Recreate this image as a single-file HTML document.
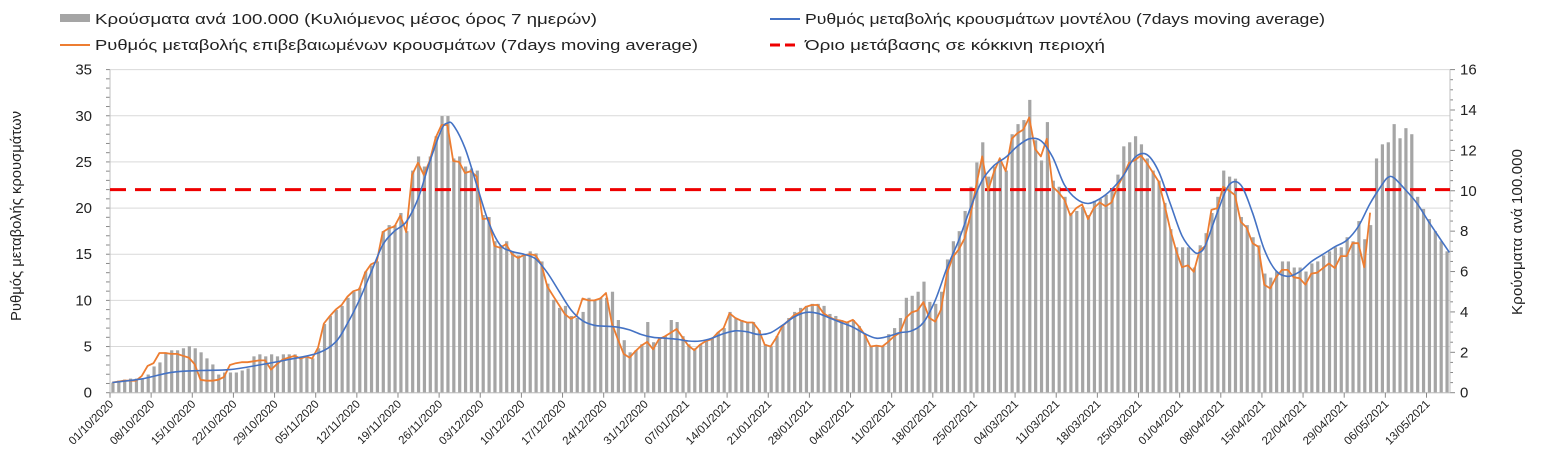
<!DOCTYPE html>
<html><head><meta charset="utf-8"><style>
html,body{margin:0;padding:0;background:#fff;}
svg{display:block;font-family:"Liberation Sans",sans-serif;}
</style></head><body>
<svg id="chart" width="1541" height="469" viewBox="0 0 1541 469" xmlns="http://www.w3.org/2000/svg">
<g id="legend">
 <g><rect x="60" y="14" width="30" height="8" fill="#a5a5a5"/><text x="95" y="24" font-size="15" textLength="502" lengthAdjust="spacingAndGlyphs" fill="#222">Κρούσματα ανά 100.000 (Κυλιόμενος μέσος όρος 7 ημερών)</text></g>
 <g><line x1="770" y1="19" x2="800" y2="19" stroke="#4472c4" stroke-width="2"/><text x="805" y="24" font-size="15" textLength="520" lengthAdjust="spacingAndGlyphs" fill="#222">Ρυθμός μεταβολής κρουσμάτων μοντέλου (7days moving average)</text></g>
 <g><line x1="60" y1="45" x2="90" y2="45" stroke="#ed7d31" stroke-width="2"/><text x="95" y="50" font-size="15" textLength="603" lengthAdjust="spacingAndGlyphs" fill="#222">Ρυθμός μεταβολής επιβεβαιωμένων κρουσμάτων (7days moving average)</text></g>
 <g><line x1="770" y1="45" x2="800" y2="45" stroke="#e00" stroke-width="3" stroke-dasharray="10,5"/><text x="805" y="50" font-size="15" textLength="300" lengthAdjust="spacingAndGlyphs" fill="#222">Όριο μετάβασης σε κόκκινη περιοχή</text></g>
</g>
<text transform="translate(21,216) rotate(-90)" text-anchor="middle" font-size="15" textLength="210" lengthAdjust="spacingAndGlyphs" fill="#222">Ρυθμός μεταβολής κρουσμάτων</text>
<text transform="translate(1522,232) rotate(-90)" text-anchor="middle" font-size="15" textLength="166" lengthAdjust="spacingAndGlyphs" fill="#222">Κρούσματα ανά 100.000</text>
<g id="plot"></g>
</svg>
<script>
const leftTicks=[0,5,10,15,20,25,30,35];
const rightTicks=[0,2,4,6,8,10,12,14,16];
const threshold=22;
const dateLabels=["01/10/2020","08/10/2020","15/10/2020","22/10/2020","29/10/2020","05/11/2020","12/11/2020","19/11/2020","26/11/2020","03/12/2020","10/12/2020","17/12/2020","24/12/2020","31/12/2020","07/01/2021","14/01/2021","21/01/2021","28/01/2021","04/02/2021","11/02/2021","18/02/2021","25/02/2021","04/03/2021","11/03/2021","18/03/2021","25/03/2021","01/04/2021","08/04/2021","15/04/2021","22/04/2021","29/04/2021","06/05/2021","13/05/2021"];
const cases=[0.5,0.6,0.65,0.7,0.7,0.7,0.9,
1.3,1.5,2.0,2.1,2.1,2.2,2.3,
2.2,2.0,1.7,1.4,0.9,1.0,1.0,
1.0,1.1,1.2,1.8,1.9,1.8,1.9,
1.8,1.9,1.9,1.9,1.8,1.8,1.7,
2.2,3.4,3.8,4.1,4.3,4.7,5.0,
5.2,6.0,6.3,6.5,8.0,8.3,8.3,
8.9,8.0,11.0,11.7,11.2,11.7,12.7,
13.7,13.7,11.6,11.7,11.2,11.1,11.0,
8.8,8.7,7.5,7.3,7.5,7.0,6.8,
6.8,7.0,6.9,6.5,5.4,4.6,4.2,
4.3,3.8,3.7,4.0,4.7,4.6,4.7,
4.7,5.0,3.6,2.6,2.0,2.1,2.4,
3.5,2.5,2.7,2.8,3.6,3.5,2.8,
2.4,2.2,2.4,2.6,2.7,3.0,3.2,
4.0,3.7,3.6,3.5,3.5,3.1,2.4,
2.3,2.8,3.3,3.7,4.0,4.2,4.3,
4.4,4.4,4.3,3.9,3.8,3.6,3.5,
3.6,3.3,2.9,2.3,2.3,2.3,2.9,
3.2,3.7,4.7,4.8,5.0,5.5,4.5,
4.4,5.0,6.6,7.5,8.0,9.0,10.2,
11.4,12.4,10.7,11.2,11.5,11.0,12.8,
13.3,13.5,14.5,12.5,11.5,13.4,10.5,
10.2,9.7,8.9,9.0,9.2,8.8,9.5,
9.6,9.8,10.1,10.8,12.2,12.4,12.7,
12.3,11.6,11.0,10.5,9.4,8.1,7.2,
7.2,7.2,6.2,7.3,7.9,8.9,9.7,
11.0,10.7,10.6,8.7,8.3,7.7,7.3,
5.9,5.7,6.0,6.5,6.5,6.2,6.2,
6.0,6.4,6.5,6.8,7.0,7.2,7.2,
7.7,7.5,8.5,7.6,8.3,11.6,12.3,
12.4,13.3,12.6,13.1,12.8,9.7,9.1,
8.6,8.0,7.5,7.0];
const confirmed=[1.1,1.2,1.3,1.3,1.3,1.8,2.9,
3.2,4.3,4.3,4.2,4.2,4.0,3.8,
3.1,1.4,1.3,1.3,1.4,1.7,3.0,
3.2,3.3,3.3,3.4,3.5,3.5,2.5,
3.1,3.6,3.8,4.0,3.7,3.9,3.7,
4.9,7.5,8.3,9.0,9.5,10.4,11.0,
11.2,13.0,13.9,14.2,17.4,17.8,18.0,
19.2,17.4,23.6,24.9,23.6,25.1,27.6,
29.0,29.0,25.1,25.0,23.8,24.0,23.4,
18.8,18.9,15.9,15.7,16.1,15.0,14.6,
14.9,15.0,14.9,13.9,11.5,10.5,9.5,
8.5,8.0,8.3,10.2,10.0,10.0,10.2,
10.8,7.5,5.8,4.2,3.8,4.5,5.1,
5.5,4.7,5.8,6.1,6.5,6.9,6.0,
5.1,4.6,5.2,5.6,5.8,6.5,7.0,
8.6,8.1,7.8,7.6,7.6,6.8,5.2,
5.0,6.0,7.2,7.8,8.4,8.7,9.3,
9.5,9.5,8.6,8.2,7.9,7.8,7.6,
7.9,7.2,6.3,5.0,5.1,5.0,5.5,
6.1,6.5,8.1,8.7,8.9,9.8,8.1,
7.7,9.0,12.9,14.7,15.5,16.7,19.2,
22.5,25.6,21.9,23.9,25.4,24.0,27.5,
28.1,28.5,29.8,26.4,25.6,27.5,22.3,
21.7,20.9,19.2,20.0,20.4,18.8,20.0,
20.6,20.2,20.6,22.3,23.5,24.9,25.2,
25.7,24.9,23.9,22.9,20.4,17.7,15.4,
13.6,13.8,13.1,15.4,15.9,19.8,20.0,
22.3,21.9,21.4,18.5,17.9,16.2,15.8,
11.7,11.3,12.5,13.3,13.3,12.5,12.4,
11.7,12.9,13.0,13.5,14.0,13.5,14.8,
14.8,16.2,16.2,13.6,19.5];
const modelDays=[0,5,10,15,20,25,30,35,38,40,42,44,46,48,50,52,54,56,57,58,60,62,64,66,68,70,72,74,76,78,80,82,84,86,88,90,92,94,96,98,100,102,104,106,108,110,112,114,116,118,120,122,124,126,128,130,132,134,136,138,140,142,144,146,148,150,152,154,156,158,160,162,164,166,168,170,172,174,176,178,180,182,184,185,186,188,190,192,194,196,198,200,202,204,206,208,210,212,214,216,217,218,220,222,224,226,227.5];
const modelVals=[1.1,1.5,2.2,2.4,2.5,3.0,3.6,4.3,5.5,7.5,10,13,16.0,17.5,18.5,21,25,28.5,29.2,29.0,26.5,22.5,18.5,16.0,15.3,15.0,14.5,13.0,11.0,9.0,7.8,7.3,7.2,7.1,6.8,6.3,6.0,5.9,5.8,5.6,5.6,5.9,6.4,6.7,6.6,6.3,6.5,7.3,8.2,8.7,8.6,8.1,7.6,7.1,6.4,5.9,6.1,6.5,6.7,7.6,10.0,13.5,16.5,20.0,23.0,24.6,25.5,26.7,27.5,27.3,25.5,22.5,21.0,20.5,21.0,22.0,23.5,25.5,25.8,24.0,20.5,17.0,15.3,15.2,16.0,19.5,22.5,22.5,19.5,15.5,13.2,12.6,13.1,14.2,15.0,15.8,16.5,18.0,20.5,22.5,23.3,23.3,22.0,20.5,18.5,16.6,15.2];

const NS="http://www.w3.org/2000/svg";
const plot=document.getElementById('plot');
const X0=110,X1=1450,Y0=392.7,Y1=69.6,NDAYS=228;
const xs=d=>X0+(X1-X0)*d/NDAYS;
const yL=v=>Y0-(Y0-Y1)*v/35;
const yR=v=>Y0-(Y0-Y1)*v/16;
function mk(tag,attrs,parent){const e=document.createElementNS(NS,tag);for(const k in attrs)e.setAttribute(k,attrs[k]);(parent||plot).appendChild(e);return e;}

leftTicks.forEach(v=>{
 const g=mk('line',{x1:X0,x2:X1,y1:yL(v),y2:yL(v),stroke:'#d9d9d9','stroke-width':1});
 
 
 const t=mk('text',{x:92,y:yL(v)+5,'text-anchor':'end','font-size':15,fill:'#222'});
 t.textContent=v;
 
 
});
for(let v=0;v<=35;v++){mk('line',{x1:X0-4,x2:X0,y1:yL(v),y2:yL(v),stroke:'#888','stroke-width':1});}
rightTicks.forEach(v=>{
 const t=mk('text',{x:1460,y:yR(v)+5,'text-anchor':'start','font-size':15,fill:'#222'});
 t.textContent=v;
 
 
});
for(let v=0;v<=16;v+=0.5){mk('line',{x1:X1,x2:X1+(v%2===0?5:3),y1:yR(v),y2:yR(v),stroke:'#888','stroke-width':1});}
mk('line',{x1:X0,x2:X0,y1:Y1,y2:Y0,stroke:'#bfbfbf','stroke-width':1});
mk('line',{x1:X1,x2:X1,y1:Y1,y2:Y0,stroke:'#bfbfbf','stroke-width':1});

cases.forEach((v,i)=>{
 const cx=xs(i+0.5);
 const r=mk('rect',{x:cx-1.6,y:yR(v),width:3.2,height:Y0-yR(v),fill:'#a5a5a5'});
 
 
});
mk('line',{x1:X0,x2:X1,y1:Y0,y2:Y0,stroke:'#bfbfbf','stroke-width':1});

dateLabels.forEach((s,i)=>{
 const x=xs(i*7);
 mk('line',{x1:x,x2:x,y1:Y0,y2:Y0+5,stroke:'#888','stroke-width':1});
 const t=mk('text',{transform:`translate(${x+4},${Y0+12}) rotate(-45)`,'text-anchor':'end','font-size':11.5,fill:'#222'});
 t.textContent=s;
 
 
});

const th=mk('line',{x1:X0,x2:X1,y1:yL(threshold),y2:yL(threshold),stroke:'#e00','stroke-width':3,'stroke-dasharray':'16,9'});



const op=confirmed.map((v,i)=>`${i?'L':'M'}${xs(i+0.4).toFixed(1)},${yL(v).toFixed(1)}`).join('');
const o=mk('path',{d:op,fill:'none',stroke:'#ed7d31','stroke-width':1.8,'stroke-linejoin':'round'});



const pts=modelDays.map((d,i)=>[xs(d+0.4),yL(modelVals[i])]);
let bp=`M${pts[0][0]},${pts[0][1]}`;
for(let i=0;i<pts.length-1;i++){
 const p0=pts[Math.max(0,i-1)],p1=pts[i],p2=pts[i+1],p3=pts[Math.min(pts.length-1,i+2)];
 const c1=[p1[0]+(p2[0]-p0[0])/6,p1[1]+(p2[1]-p0[1])/6],c2=[p2[0]-(p3[0]-p1[0])/6,p2[1]-(p3[1]-p1[1])/6];
 bp+=`C${c1[0].toFixed(1)},${c1[1].toFixed(1)} ${c2[0].toFixed(1)},${c2[1].toFixed(1)} ${p2[0].toFixed(1)},${p2[1].toFixed(1)}`;
}
const b=mk('path',{d:bp,fill:'none',stroke:'#4472c4','stroke-width':1.6});


</script>
</body></html>
